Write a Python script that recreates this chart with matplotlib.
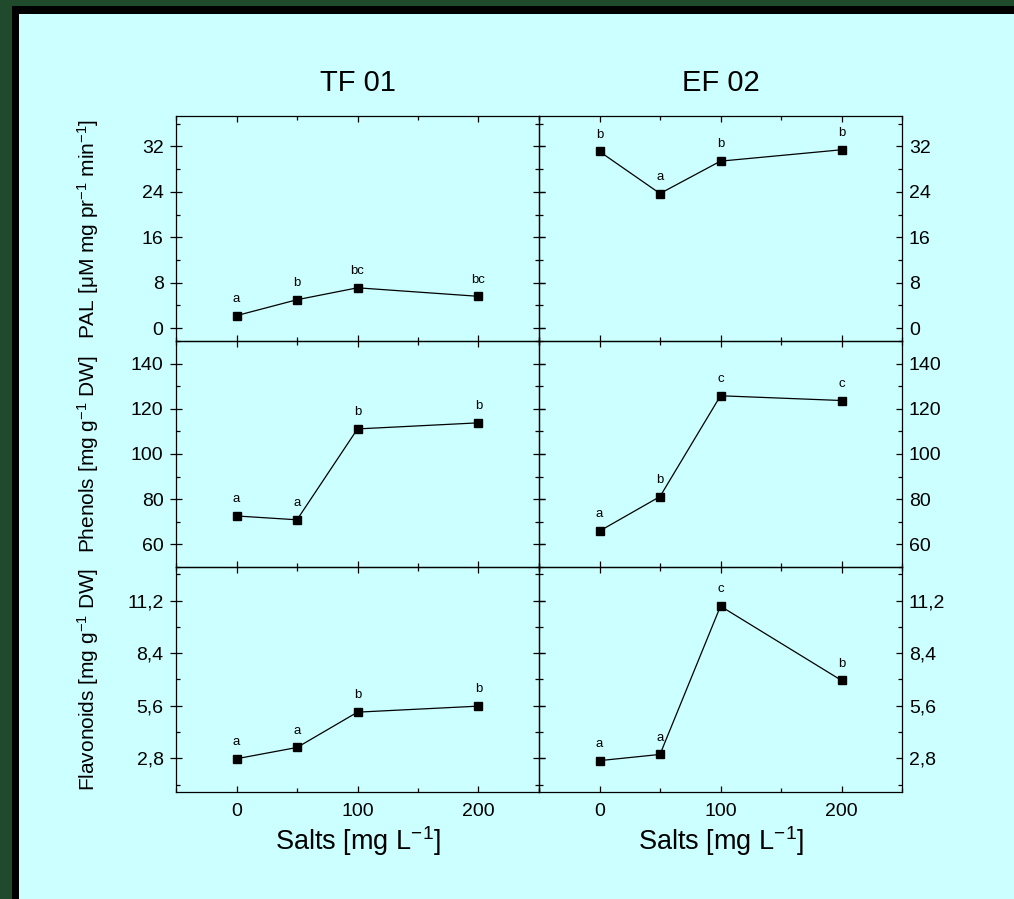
import numpy as np
import matplotlib
matplotlib.use('Agg')
import matplotlib.pyplot as plt
from matplotlib.patches import Rectangle
from matplotlib.ticker import MultipleLocator

plt.rcParams['font.family'] = ['Liberation Sans', 'DejaVu Sans']
plt.rcParams['mathtext.fontset'] = 'custom'
plt.rcParams['mathtext.rm'] = 'Liberation Sans'
plt.rcParams['mathtext.it'] = 'Liberation Sans:italic'
plt.rcParams['mathtext.default'] = 'regular'

salts = [0, 50, 100, 200]

pal_tf = [2.2, 5.0, 7.1, 5.6]
pal_ef = [31.1, 23.7, 29.4, 31.4]
phen_tf = [72.5, 70.8, 111.1, 113.8]
phen_ef = [65.8, 81.1, 125.8, 123.7]
flav_tf = [2.78, 3.38, 5.26, 5.58]
flav_ef = [2.68, 3.01, 10.9, 6.95]

let_pal_tf = ['a', 'b', 'bc', 'bc']
let_pal_ef = ['b', 'a', 'b', 'b']
let_phen_tf = ['a', 'a', 'b', 'b']
let_phen_ef = ['a', 'b', 'c', 'c']
let_flav_tf = ['a', 'a', 'b', 'b']
let_flav_ef = ['a', 'a', 'c', 'b']

titles = ['TF 01', 'EF 02']
ylabels = ['PAL [μM mg pr$^{-1}$ min$^{-1}$]',
           'Phenols [mg g$^{-1}$ DW]',
           'Flavonoids [mg g$^{-1}$ DW]']
xlabel = 'Salts [mg L$^{-1}$]'

pal_ticks = [0, 8, 16, 24, 32]
phen_ticks = [60, 80, 100, 120, 140]
flav_ticks = [2.8, 5.6, 8.4, 11.2]
flav_ticklabels = ['2,8', '5,6', '8,4', '11,2']

cyan = '#ccffff'
W, H = 1014, 899
fig = plt.figure(figsize=(W / 100, H / 100), dpi=100, facecolor='#1f4a2c')

# background: black frame + cyan panel
bg = fig.add_axes([0, 0, 1, 1], zorder=-5)
bg.set_xlim(0, W)
bg.set_ylim(H, 0)
bg.axis('off')
bg.add_patch(Rectangle((12, 6), W, H, facecolor='black', edgecolor='none'))
bg.add_patch(Rectangle((19, 14), W, H, facecolor=cyan, edgecolor='none'))

rows = [
    (pal_tf, pal_ef, let_pal_tf, let_pal_ef, (-2.3, 37.4), pal_ticks, [str(t) for t in pal_ticks], 4),
    (phen_tf, phen_ef, let_phen_tf, let_phen_ef, (50, 150), phen_ticks, [str(t) for t in phen_ticks], 10),
    (flav_tf, flav_ef, let_flav_tf, let_flav_ef, (1.0, 13.0), flav_ticks, flav_ticklabels, 1.4),
]

ax_left = [176 / W, 539 / W]
ax_w = 363 / W
ax_h = 225.5 / H
tops = [115.7, 341.2, 566.7]

for r, (ytf, yef, ltf, lef, ylim, yt, ytl, yminor) in enumerate(rows):
    for c, (yy, lets) in enumerate([(ytf, ltf), (yef, lef)]):
        bottom = 1 - (tops[r] + 225.5) / H
        ax = fig.add_axes([ax_left[c], bottom, ax_w, ax_h])
        ax.set_facecolor('none')
        ax.plot(salts, yy, color='black', lw=0.9, marker='s', ms=5.5,
                mfc='black', mec='black')
        for x, y, s in zip(salts, yy, lets):
            ax.annotate(s, (x, y), xytext=(0, 12), textcoords='offset points',
                        ha='center', va='center', fontsize=9.5)
        ax.set_xlim(-50, 250)
        ax.set_ylim(*ylim)
        ax.set_xticks([0, 100, 200])
        ax.xaxis.set_minor_locator(MultipleLocator(50))
        ax.set_yticks(yt)
        ax.set_yticklabels(ytl)
        ax.yaxis.set_minor_locator(MultipleLocator(yminor))
        for sp in ax.spines.values():
            sp.set_linewidth(0.9)
        ax.tick_params(which='both', direction='in', top=True, bottom=True,
                       left=True, right=True, labelsize=14, width=0.9)
        ax.tick_params(which='major', length=4.5, pad=5)
        ax.tick_params(which='minor', length=2.8)
        ax.tick_params(axis='x', which='major', pad=8)
        if c == 0:
            ax.tick_params(axis='y', which='major', direction='inout', length=8)
            ax.set_ylabel(ylabels[r], fontsize=15, va='center')
            ax.yaxis.set_label_coords(-0.242, 0.5)
        else:
            ax.tick_params(axis='y', labelleft=False, labelright=True)
        if r == 0:
            ax.set_title(titles[c], fontsize=21, pad=18)
        if r < 2:
            ax.tick_params(axis='x', labelbottom=False)
        else:
            ax.set_xlabel(xlabel, fontsize=19.5, labelpad=3)

fig.savefig('out.png', dpi=100, facecolor=fig.get_facecolor())
